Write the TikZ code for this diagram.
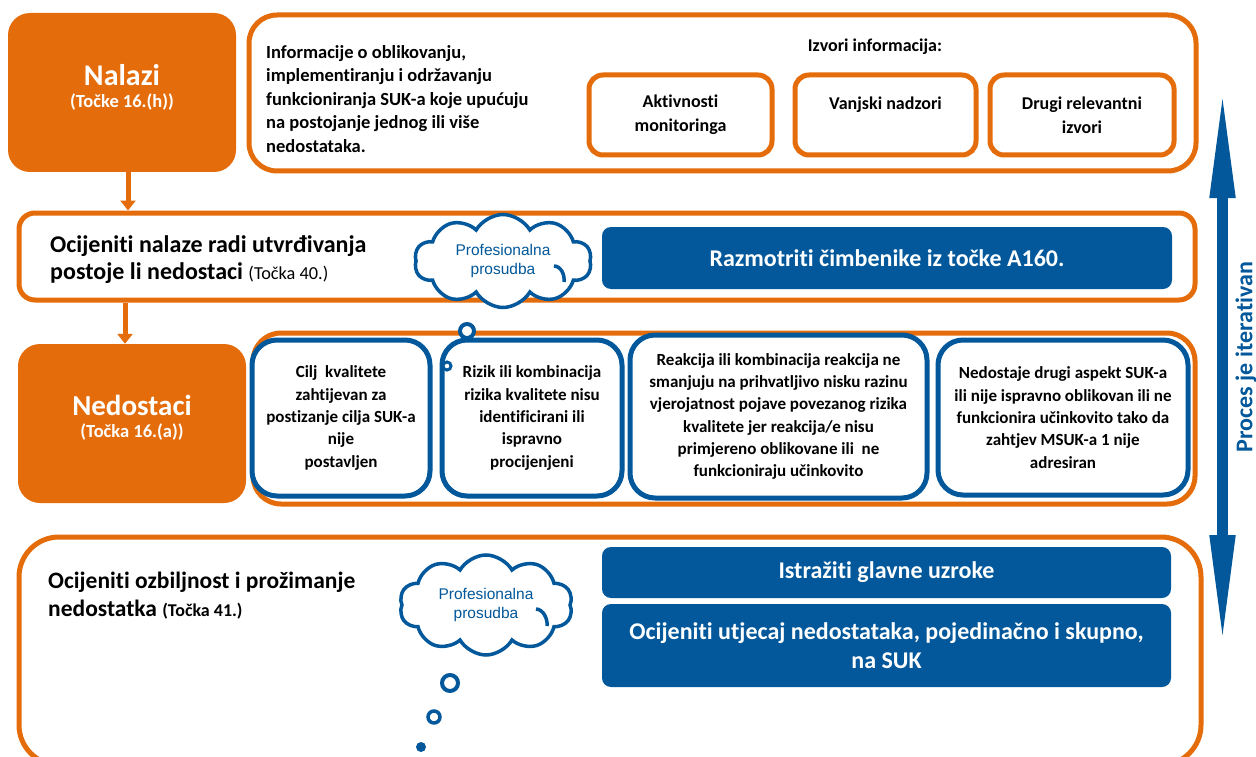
\documentclass[tikz,border=0pt]{standalone}
\usepackage{fontspec}
\setmainfont{Carlito}[Ligatures=NoCommon]
\newfontfamily\cloudfont{Liberation Sans}
\usetikzlibrary{shapes.symbols,arrows.meta,calc}
\definecolor{myorange}{RGB}{228,108,10}
\definecolor{myblue}{RGB}{2,88,154}
\begin{document}
\begin{tikzpicture}[x=1pt,y=-1pt,
 oframe/.style={draw=myorange,line width=5pt,fill=white,rounded corners=#1,inner sep=0pt},
 ofill/.style={fill=myorange,rounded corners=22pt,inner sep=0pt},
 headtxt/.style={inner sep=0pt,align=center,text=white,font=\bfseries},
 bframe/.style={draw=myblue,line width=5pt,fill=white,rounded corners=25pt,inner sep=0pt,align=center,font=\fontsize{17}{22.3}\selectfont\bfseries},
 bfill/.style={fill=myblue,rounded corners=9pt,inner sep=0pt,text=white,align=center,font=\fontsize{24}{29}\selectfont\bfseries},
 srcbox/.style={draw=myorange,line width=5pt,fill=white,rounded corners=14pt,inner sep=0pt,minimum height=80pt,align=center,font=\fontsize{18}{24}\selectfont\bfseries},
 cloudnode/.style={cloud,cloud puffs=10,cloud puff arc=120,cloud ignores aspect,draw=myblue,line width=3.5pt,fill=white,inner sep=0pt,align=center,text=myblue,font=\cloudfont\fontsize{15.5}{19}\selectfont},
 curl/.style={draw=myblue,line width=3.5pt},
 bubble/.style={circle,draw=myblue,line width=#1,fill=white,inner sep=0pt},
 ltxt/.style={anchor=west,align=left,inner sep=0pt},
 oarrow/.style={draw=myorange,line width=5pt,-{Triangle[width=15pt,length=10pt]}},
 tarrow/.style={draw=myblue,line width=11pt,{Triangle[width=23pt,length=111pt]}-{Triangle[width=23pt,length=112pt]}},
]
\useasboundingbox (0,0) rectangle (1256,757);
\clip (0,0) rectangle (1256,757);

% ---------- row 1
\node[ofill,minimum width=228pt,minimum height=159pt] (nalazi) at (122,92.5) {};
\node[headtxt] (nalaziT) at (122,87) {{\fontsize{30}{30}\selectfont Nalazi}\\[7pt]{\fontsize{18.5}{20}\selectfont (Točke 16.(h))}};
\node[oframe=28pt,minimum width=947pt,minimum height=156pt] (top) at (722.5,93) {};
\node[ltxt,font=\fontsize{18.5}{23.5}\selectfont\bfseries] (info) at (266,99)
 {Informacije o oblikovanju,\\implementiranju i održavanju\\funkcioniranja SUK-a koje upućuju\\na postojanje jednog ili više\\nedostataka.};
\node[inner sep=0pt,font=\fontsize{18}{22}\selectfont\bfseries] (izvori) at (875,47) {Izvori informacija:};
\node[srcbox,minimum width=183pt] (src1) at (680.5,115) {Aktivnosti\\monitoringa};
\node[srcbox,minimum width=181pt] (src2) at (885.5,115) {Vanjski nadzori\\\mbox{}};
\node[srcbox,minimum width=184pt] (src3) at (1082,115) {Drugi relevantni\\izvori};

% ---------- row 2
\node[oframe=16pt,minimum width=1176pt,minimum height=87pt] (row2) at (607,256.5) {};
\node[ltxt,font=\fontsize{24}{27}\selectfont\bfseries] (row2T) at (50,260)
 {Ocijeniti nalaze radi utvrđivanja\\postoje li nedostaci {\mdseries\fontsize{18.3}{27}\selectfont (Točka 40.)}};
\node[bfill,minimum width=570pt,minimum height=62pt] (a160) at (887,258) {Razmotriti čimbenike iz točke A160.};
\node[cloudnode,minimum width=177pt,minimum height=93pt] (cloud1) at (503,261) {Profesionalna\\prosudba};
\draw[curl] ($(cloud1.center)+(51,5)$) .. controls +(7,0) and +(1,-7) .. +(10,16);

% ---------- row 3
\node[ofill,minimum width=228pt,minimum height=159pt] (nedost) at (132,423.5) {};
\node[headtxt] (nedostT) at (132,418) {{\fontsize{29}{30}\selectfont Nedostaci}\\[7pt]{\fontsize{18.5}{20}\selectfont (Točka 16.(a))}};
\node[oframe=28pt,minimum width=942pt,minimum height=171pt] (row3) at (724,418.5) {};
\node[bframe,minimum width=178pt,minimum height=156pt] (d1) at (341,418) {Cilj\ \ kvalitete\\zahtijevan za\\postizanje cilja SUK-a\\nije\\postavljen};
\node[bframe,minimum width=180pt,minimum height=156pt] (d2) at (532,418) {Rizik ili kombinacija\\rizika kvalitete nisu\\identificirani ili\\ispravno\\procijenjeni};
\node[bframe,minimum width=297pt,minimum height=163pt] (d3) at (778.5,416.5) {Reakcija ili kombinacija reakcija ne\\smanjuju na prihvatljivo nisku razinu\\vjerojatnost pojave povezanog rizika\\kvalitete jer reakcija/e nisu\\primjereno oblikovane ili\ \ ne\\funkcioniraju učinkovito};
\node[bframe,minimum width=250pt,minimum height=155pt] (d4) at (1063,417.5) {Nedostaje drugi aspekt SUK-a\\ili nije ispravno oblikovan ili ne\\funkcionira učinkovito tako da\\zahtjev MSUK-a 1 nije\\adresiran};
\node[bubble=4pt,minimum size=14pt] (bub1) at (467,331) {};
\node[bubble=3pt,minimum size=8pt] (bub2) at (447,366) {};

% ---------- row 4
\node[oframe=40pt,minimum width=1182pt,minimum height=228pt] (row4) at (610,651) {};
\node[ltxt,font=\fontsize{23.5}{28}\selectfont\bfseries] (row4T) at (48,596)
 {Ocijeniti ozbiljnost i prožimanje\\nedostatka {\fontsize{18}{28}\selectfont (Točka 41.)}};
\node[bfill,minimum width=569pt,minimum height=51pt] (uzroci) at (886.5,572.5) {Istražiti glavne uzroke};
\node[bfill,minimum width=569pt,minimum height=83pt] (utjecaj) at (886.5,645.5) {Ocijeniti utjecaj nedostataka, pojedinačno i skupno,\\na SUK};
\node[cloudnode,minimum width=173pt,minimum height=100pt] (cloud2) at (486,605) {Profesionalna\\prosudba};
\draw[curl] ($(cloud2.center)+(50,4)$) .. controls +(7,0) and +(1,-7) .. +(11,17);
\node[bubble=4pt,minimum size=16pt] (bub3) at (450,683) {};
\node[bubble=3.5pt,minimum size=12pt] (bub4) at (434,717) {};
\node[circle,fill=myblue,inner sep=0pt,minimum size=10pt] (bub5) at (421,747) {};

% ---------- connectors
\draw[oarrow] ([xshift=6pt]nalazi.south) -- ([xshift=6pt]nalazi.south |- row2.north);
\draw[oarrow] ([xshift=-7pt]nedost.north |- row2.south) -- ([xshift=-7pt]nedost.north);
\coordinate (arrTop) at (1222.5,87);
\coordinate (arrBot) at (1222.5,647);
\draw[tarrow] (arrTop) -- (arrBot);
\node[rotate=90,inner sep=0pt,text=myblue,font=\fontsize{24}{24}\selectfont\bfseries] (iter) at (1246,357) {Proces je iterativan};
\end{tikzpicture}
\end{document}
